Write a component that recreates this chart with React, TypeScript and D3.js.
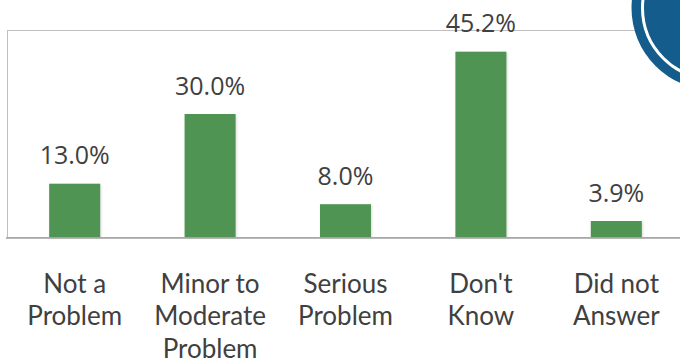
import React from "react";
import * as d3 from "d3";

const categories = ["Not a\nProblem", "Minor to\nModerate\nProblem", "Serious\nProblem", "Don't\nKnow", "Did not\nAnswer"];
const values = [13.0, 30.0, 8.0, 45.2, 3.9];
const valueLabels = ["13.0%", "30.0%", "8.0%", "45.2%", "3.9%"];

const W = 680;
const H = 362;

export default function App() {
  const x = d3
    .scaleBand<number>()
    .domain(d3.range(categories.length))
    .range([7, 684])
    .paddingInner(0.623)
    .paddingOuter(0.3115);
  const y = d3.scaleLinear().domain([0, 50]).range([237, 32]);

  return (
    <svg
      width={W}
      height={H}
      style={{ position: "absolute", left: 0, top: 0, background: "#fff" }}
    >
      <defs>
        <filter id="sh" x="-20%" y="-20%" width="140%" height="140%">
          <feDropShadow dx="1" dy="1" stdDeviation="1" floodColor="#000" floodOpacity="0.15" />
        </filter>
      </defs>
      {/* plot area border */}
      <rect x={7.5} y={30.5} width={720} height={207} fill="none" stroke="#bfbfbf" strokeWidth={1} />
      {/* bars */}
      {values.map((v, i) => (
        <rect
          key={i}
          x={x(i)}
          y={y(v)}
          width={x.bandwidth()}
          height={y(0) - y(v)}
          fill="#509452"
          filter="url(#sh)"
        />
      ))}
      {/* baseline */}
      <line x1={6} x2={680} y1={238} y2={238} stroke="#a0a0a0" strokeWidth={1.5} />
      {/* value labels */}
      {values.map((v, i) => (
        <text
          key={i}
          x={(x(i) as number) + x.bandwidth() / 2}
          y={y(v) - 19.5}
          textAnchor="middle"
          fontFamily="'Open Sans', sans-serif"
          fontSize={25}
          fill="#404040"
        >
          {valueLabels[i]}
        </text>
      ))}
      {/* category labels */}
      {categories.map((c, i) => (
        <text
          key={i}
          x={(x(i) as number) + x.bandwidth() / 2}
          y={292.5}
          textAnchor="middle"
          fontFamily="Lato, sans-serif"
          fontSize={26}
          fill="#404040"
        >
          {c.split("\n").map((line, j) => (
            <tspan key={j} x={(x(i) as number) + x.bandwidth() / 2} dy={j === 0 ? 0 : 32.5}>
              {line}
            </tspan>
          ))}
        </text>
      ))}
      {/* decorative emblem in the corner */}
      <circle cx={713.5} cy={8} r={82} fill="#135c8b" />
      <circle cx={713.5} cy={8} r={71} fill="none" stroke="#fff" strokeWidth={3} />
    </svg>
  );
}
